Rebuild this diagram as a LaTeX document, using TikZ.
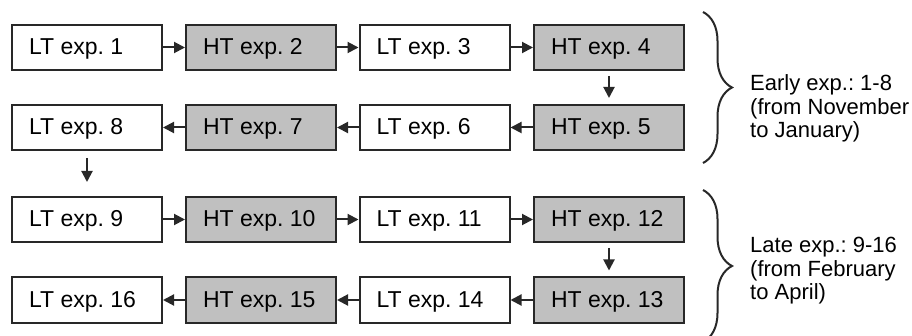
\documentclass[tikz,border=0pt]{standalone}
\usepackage{fontspec}
\setmainfont{Liberation Sans}
\frenchspacing
\usetikzlibrary{arrows.meta,decorations.pathreplacing}
\definecolor{edge}{RGB}{40,40,40}
\definecolor{hfill}{RGB}{192,192,192}
\newcommand{\bxt}[1]{\makebox[116pt][l]{#1}}
\begin{document}
\begin{tikzpicture}[x=1pt,y=-1pt,
  box/.style={draw=edge,line width=2pt,fill=white,
    inner xsep=17pt,inner ysep=0pt,
    text height=30pt,text depth=15pt,font=\fontsize{23}{26}\selectfont},
  hbox/.style={box,fill=hfill},
  conn/.style={draw=edge,line width=2pt,-{Triangle[length=11pt,width=11pt]}},
  brc/.style={draw=edge,line width=2pt,decorate,decoration={brace,amplitude=29pt}},
  note/.style={anchor=base west,align=left,inner sep=0pt,
    font=\fontsize{22}{23.5}\selectfont}]
\useasboundingbox (0,0) rectangle (912,336);
% row 1
\node[box]  (b1) at (87,47.5) {\bxt{LT exp. 1}};
\node[hbox] (b2) at (261,47.5) {\bxt{HT exp. 2}};
\node[box]  (b3) at (434.5,47.5) {\bxt{LT exp. 3}};
\node[hbox] (b4) at (609,47.5) {\bxt{HT exp. 4}};
% row 2
\node[box]  (b8) at (87,127.5) {\bxt{LT exp. 8}};
\node[hbox] (b7) at (261,127.5) {\bxt{HT exp. 7}};
\node[box]  (b6) at (434.5,127.5) {\bxt{LT exp. 6}};
\node[hbox] (b5) at (609,127.5) {\bxt{HT exp. 5}};
% row 3
\node[box]  (b9)  at (87,219.5) {\bxt{LT exp. 9}};
\node[hbox] (b10) at (261,219.5) {\bxt{HT exp. 10}};
\node[box]  (b11) at (434.5,219.5) {\bxt{LT exp. 11}};
\node[hbox] (b12) at (609,219.5) {\bxt{HT exp. 12}};
% row 4
\node[box]  (b16) at (87,300) {\bxt{LT exp. 16}};
\node[hbox] (b15) at (261,300) {\bxt{HT exp. 15}};
\node[box]  (b14) at (434.5,300) {\bxt{LT exp. 14}};
\node[hbox] (b13) at (609,300) {\bxt{HT exp. 13}};
% connectors
\draw[conn] (b1) -- (b2);
\draw[conn] (b2) -- (b3);
\draw[conn] (b3) -- (b4);
\draw[conn,shorten <=5pt,shorten >=6pt] (b4) -- (b5);
\draw[conn] (b5) -- (b6);
\draw[conn] (b6) -- (b7);
\draw[conn] (b7) -- (b8);
\draw[conn,shorten <=7pt,shorten >=14pt] (b8) -- (b9);
\draw[conn] (b9) -- (b10);
\draw[conn] (b10) -- (b11);
\draw[conn] (b11) -- (b12);
\draw[conn,shorten <=5pt,shorten >=6pt] (b12) -- (b13);
\draw[conn] (b13) -- (b14);
\draw[conn] (b14) -- (b15);
\draw[conn] (b15) -- (b16);
% braces
\coordinate (e1) at (703,12);
\coordinate (e2) at (703,163);
\coordinate (l1) at (703,190);
\coordinate (l2) at (703,342);
\draw[brc] (e1) -- (e2);
\draw[brc] (l1) -- (l2);
\node[note] (early) at (750,138) {Early exp.: 1-8\\(from November\\to January)};
\node[note] (late) at (750,300) {Late exp.: 9-16\\(from February\\to April)};
\end{tikzpicture}
\end{document}
